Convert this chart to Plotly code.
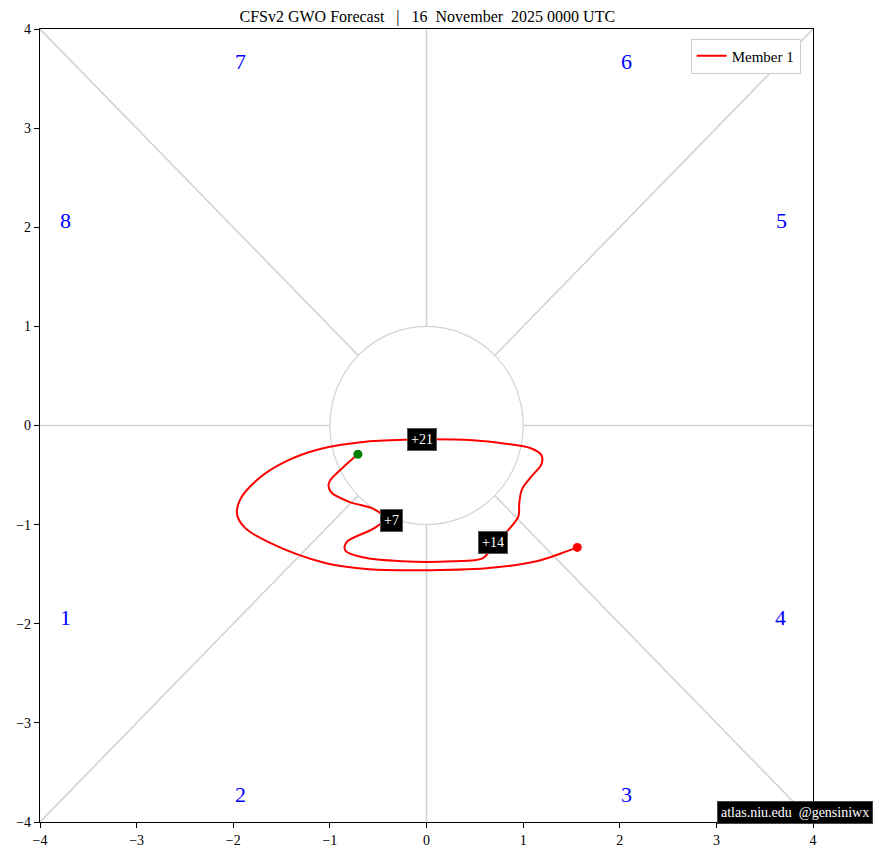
import plotly.graph_objects as go

# ---- data ----
path_x = [-0.71, -0.86, -1.01, -0.99, -0.80, -0.55, -0.43, -0.55, -0.83, -0.84, -0.66, -0.25,
          0.27, 0.58, 0.66, 0.72, 0.84, 0.95, 0.96, 0.99, 1.08, 1.19, 1.19, 1.08, 0.86, 0.48,
          -0.05, -0.59, -1.11, -1.45, -1.73, -1.93, -1.96, -1.88, -1.63, -1.04, -0.59, -0.07,
          0.62, 1.14, 1.45, 1.56]
path_y = [-0.29, -0.42, -0.58, -0.67, -0.77, -0.84, -0.94, -1.04, -1.18, -1.26, -1.33, -1.37,
          -1.37, -1.34, -1.26, -1.18, -1.06, -0.92, -0.78, -0.64, -0.52, -0.39, -0.30, -0.23,
          -0.19, -0.15, -0.14, -0.16, -0.24, -0.36, -0.53, -0.75, -0.90, -1.03, -1.18, -1.39,
          -1.45, -1.46, -1.44, -1.37, -1.27, -1.23]
day_labels = ["+7", "+14", "+21"]
day_index = [6, 15, 26]

phase_names = ["1", "2", "3", "4", "5", "6", "7", "8"]
phase_x = [-3.74, -1.93, 2.07, 3.66, 3.67, 2.07, -1.93, -3.74]
phase_y = [-1.94, -3.72, -3.72, -1.94, 2.07, 3.67, 3.67, 2.07]

title_text = "CFSv2 GWO Forecast \u00a0 | \u00a0 16 \u00a0November \u00a02025 0000 UTC"
credit_text = "atlas.niu.edu \u00a0@gensiniwx"
ticks = [-4, -3, -2, -1, 0, 1, 2, 3, 4]

FONT = "Liberation Serif"
GREY = "#d3d3d3"

fig = go.Figure()

shapes = []
lim = 4
for (x0, y0, x1, y1) in [(-lim, -lim, lim, lim), (-lim, lim, lim, -lim), (-lim, 0, lim, 0), (0, -lim, 0, lim)]:
    shapes.append(dict(type="line", xref="x", yref="y", x0=x0, y0=y0, x1=x1, y1=y1,
                       line=dict(color=GREY, width=1.6), layer="below"))
shapes.append(dict(type="circle", xref="x", yref="y", x0=-1, y0=-1, x1=1, y1=1,
                   line=dict(color=GREY, width=1.2), fillcolor="white", layer="below"))

fig.add_trace(go.Scatter(x=path_x, y=path_y, mode="lines", name="Member 1",
                         line=dict(color="red", width=2, shape="spline", smoothing=1.0)))
fig.add_trace(go.Scatter(x=[path_x[0]], y=[path_y[0]], mode="markers", showlegend=False,
                         marker=dict(color="green", size=9)))
fig.add_trace(go.Scatter(x=[path_x[-1]], y=[path_y[-1]], mode="markers", showlegend=False,
                         marker=dict(color="red", size=9)))

label_shift = [(7, -2), (-3, 0), (0, 0)]
annotations = []
for lab, idx, (dx, dy) in zip(day_labels, day_index, label_shift):
    annotations.append(dict(x=path_x[idx], y=path_y[idx], xref="x", yref="y", text=lab,
                            xshift=dx, yshift=dy,
                            showarrow=False, font=dict(family=FONT, size=14, color="white"),
                            bgcolor="black", bordercolor="#555555", borderwidth=1, borderpad=3))
for name, px, py in zip(phase_names, phase_x, phase_y):
    annotations.append(dict(x=px, y=py, xref="x", yref="y", text=name, showarrow=False,
                            font=dict(family=FONT, size=22, color="blue")))
annotations.append(dict(x=0.876, y=0.0126, xref="paper", yref="paper", xanchor="left",
                        yanchor="middle", text=credit_text, showarrow=False,
                        font=dict(family=FONT, size=14, color="white"),
                        bgcolor="black", bordercolor="#444444", borderwidth=1, borderpad=3))

axis_common = dict(range=[-4, 4], tickvals=ticks, showgrid=False, zeroline=False,
                   showline=True, mirror=True, linecolor="black", linewidth=1.2,
                   ticks="outside", ticklen=5, tickcolor="black", automargin=False,
                   tickfont=dict(family=FONT, size=14, color="black"))

fig.update_layout(
    width=881, height=862,
    margin=dict(l=40, r=68, t=29, b=40),
    paper_bgcolor="white", plot_bgcolor="white",
    title=dict(text=title_text, x=0.485, xanchor="center", y=0.981, yanchor="middle",
               font=dict(family=FONT, size=16, color="black")),
    xaxis=axis_common, yaxis=axis_common,
    shapes=shapes, annotations=annotations,
    legend=dict(x=0.984, y=0.988, xanchor="right", yanchor="top", bgcolor="white",
                bordercolor="#cccccc", borderwidth=1,
                font=dict(family=FONT, size=15, color="black")),
    showlegend=True,
)

fig.write_html("out.html", config={"displayModeBar": False},
               post_script="document.body.style.margin='0px';document.body.style.overflow='hidden';")
